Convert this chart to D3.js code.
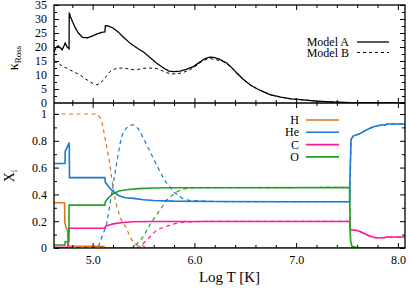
<!DOCTYPE html>
<html lang='en'>
	<head>
		<meta charset='utf-8'>
		<title>Opacity and composition</title>
		<script type='text/javascript' src='https://cdn.jsdelivr.net/npm/d3@7'></script>
		<style>
			body { margin: 0; background: #fff; }
		</style>
	</head>
	<body>
		<svg id='svg' width='409' height='288'></svg>
		<script type='text/javascript'>
		{
			// top panel: Rosseland opacity
			var tA = [4.62, 4.64, 4.66, 4.68, 4.70, 4.72, 4.73, 4.75, 4.768, 4.770, 4.78, 4.80, 4.83, 4.86, 4.90, 4.95, 5.00, 5.05, 5.10, 5.12, 5.125, 5.15, 5.20, 5.25, 5.30, 5.37, 5.45, 5.50, 5.56, 5.63, 5.70, 5.75, 5.80, 5.86, 5.92, 5.99, 6.05, 6.10, 6.15, 6.19, 6.25, 6.32, 6.38, 6.42, 6.48, 6.55, 6.62, 6.68, 6.75, 6.85, 6.95, 7.07, 7.20, 7.35, 7.53, 7.70, 8.07];
			var kA = [18.2, 19.8, 20.4, 19.8, 19.0, 20.5, 21.4, 20.0, 19.4, 32.3, 31.0, 29.2, 26.8, 25.0, 23.4, 23.3, 24.0, 24.8, 25.3, 25.4, 27.6, 27.5, 26.8, 25.4, 23.6, 21.3, 19.3, 18.2, 16.3, 14.2, 12.4, 11.4, 11.2, 11.4, 12.0, 13.0, 14.5, 15.8, 16.4, 16.3, 15.6, 14.2, 12.2, 10.6, 8.5, 6.4, 5.0, 4.0, 2.9, 2.1, 1.5, 1.1, 0.7, 0.4, 0.12, 0.05, 0.02];
			var tB = [4.62, 4.66, 4.70, 4.745, 4.80, 4.876, 4.93, 4.974, 5.01, 5.04, 5.07, 5.105, 5.14, 5.17, 5.22, 5.27, 5.33, 5.40, 5.45, 5.50, 5.56, 5.63, 5.69, 5.73, 5.78, 5.83, 5.89, 5.96, 6.03, 6.08, 6.12, 6.16, 6.22, 6.28, 6.32, 6.38, 6.42, 6.48, 6.55, 6.62, 6.68, 6.75, 6.85, 6.95, 7.07, 7.20, 7.35, 7.53, 7.70, 8.07];
			var kB = [14.8, 14.2, 13.2, 12.4, 11.4, 10.0, 8.6, 7.6, 6.8, 6.5, 7.0, 8.2, 9.8, 11.2, 12.2, 12.5, 12.3, 11.9, 12.0, 12.4, 12.5, 12.3, 11.4, 10.8, 10.4, 10.4, 10.9, 11.9, 13.6, 15.0, 15.6, 15.8, 15.4, 14.8, 14.0, 12.1, 10.5, 8.4, 6.4, 5.0, 4.0, 2.9, 2.1, 1.5, 1.1, 0.7, 0.4, 0.12, 0.05, 0.02];

			// bottom panel: mass fractions, model A (solid)
			var tHeA = [4.62, 4.728, 4.730, 4.770, 4.772, 5.12, 5.125, 5.15, 5.20, 5.26, 5.32, 5.40, 5.50, 5.60, 5.80, 6.20, 7.00, 7.525, 7.532, 7.54, 7.56, 7.63, 7.70, 7.76, 7.85, 7.88, 7.89, 8.07];
			var heA = [0.63, 0.63, 0.72, 0.786, 0.525, 0.525, 0.49, 0.465, 0.42, 0.39, 0.375, 0.37, 0.36, 0.355, 0.35, 0.347, 0.345, 0.345, 0.60, 0.81, 0.835, 0.855, 0.885, 0.905, 0.92, 0.918, 0.925, 0.925];
			var tHA = [4.62, 4.724, 4.726, 4.735, 4.754, 4.760, 4.770, 5.10, 5.13, 8.07];
			var hA = [0.338, 0.338, 0.20, 0.16, 0.13, 0.03, 0.015, 0.012, 0.002, 0.0];
			var tCA = [4.62, 4.755, 4.768, 5.12, 5.125, 5.20, 5.30, 5.40, 5.60, 7.525, 7.535, 7.56, 7.60, 7.65, 7.72, 7.78, 7.87, 7.88, 8.07];
			var cA = [0.005, 0.005, 0.147, 0.147, 0.162, 0.18, 0.19, 0.196, 0.198, 0.198, 0.134, 0.134, 0.13, 0.115, 0.09, 0.077, 0.077, 0.082, 0.082];
			var tOA = [4.62, 4.728, 4.730, 4.766, 4.768, 5.12, 5.125, 5.15, 5.20, 5.26, 5.33, 5.45, 5.60, 5.80, 7.525, 7.530, 7.535, 7.55, 7.60, 8.07];
			var oA = [0.022, 0.022, 0.047, 0.047, 0.32, 0.32, 0.346, 0.37, 0.405, 0.425, 0.435, 0.443, 0.448, 0.45, 0.452, 0.20, 0.05, 0.01, 0.003, 0.002];

			// model B (dashed)
			var tHB = [4.62, 5.04, 5.07, 5.09, 5.11, 5.14, 5.17, 5.20, 5.23, 5.28, 5.33, 5.37, 5.40, 5.44, 5.48, 5.53, 8.07];
			var hB = [1.0, 1.0, 0.975, 0.94, 0.868, 0.75, 0.62, 0.45, 0.33, 0.21, 0.15, 0.08, 0.045, 0.02, 0.025, 0.0, 0.0];
			var tHeB = [4.62, 5.04, 5.055, 5.10, 5.138, 5.19, 5.237, 5.27, 5.301, 5.35, 5.40, 5.45, 5.498, 5.55, 5.596, 5.695, 5.793, 5.891, 5.95, 6.10, 6.20, 7.00, 7.525, 7.532, 7.54, 7.56, 7.63, 7.70, 7.76, 7.85, 7.88, 7.89, 8.07];
			var heB = [0.0, 0.0, 0.01, 0.10, 0.18, 0.42, 0.64, 0.78, 0.868, 0.91, 0.92, 0.89, 0.82, 0.74, 0.67, 0.52, 0.42, 0.366, 0.355, 0.35, 0.347, 0.345, 0.345, 0.60, 0.81, 0.835, 0.855, 0.885, 0.905, 0.92, 0.918, 0.925, 0.925];
			var tCB = [4.62, 5.42, 5.466, 5.564, 5.63, 5.695, 5.80, 5.859, 5.95, 6.10, 7.525, 7.535, 7.56, 7.60, 7.65, 7.72, 7.78, 7.87, 7.88, 8.07];
			var cB = [0.0, 0.0, 0.01, 0.084, 0.135, 0.154, 0.18, 0.19, 0.195, 0.198, 0.198, 0.134, 0.134, 0.13, 0.115, 0.09, 0.077, 0.077, 0.082, 0.082];
			var tOB = [4.62, 5.38, 5.42, 5.498, 5.58, 5.662, 5.728, 5.793, 5.859, 5.93, 6.00, 7.525, 7.530, 7.535, 7.55, 7.60, 8.07];
			var oB = [0.0, 0.0, 0.02, 0.084, 0.196, 0.284, 0.358, 0.40, 0.433, 0.445, 0.45, 0.452, 0.20, 0.05, 0.01, 0.003, 0.002];

			var xMajor = [5, 6, 7, 8];
			var xLabels = ['5.0', '6.0', '7.0', '8.0'];
			var kTicks = [0, 5, 10, 15, 20, 25, 30, 35];
			var kLabels = ['0', '5', '10', '15', '20', '25', '30', '35'];
			var xiTicks = [0, 0.2, 0.4, 0.6, 0.8, 1];
			var xiLabels = ['0', '0.2', '0.4', '0.6', '0.8', '1'];

			var species = ['H', 'He', 'C', 'O'];
			var speciesColors = ['#d9761c', '#1a78d6', '#ff1a8c', '#22a022'];

			var serif = 'Liberation Serif, DejaVu Serif, serif';
			var svg = d3.select('#svg').style('font-family', serif);
			var pLeft = 54, pRight = 405, pTop = 5, pMid = 103, pBottom = 248;

			var x = d3.scaleLinear().domain([4.62, 8.07]).range([pLeft, pRight]);
			var yK = d3.scaleLinear().domain([0, 35]).range([pMid, pTop]);
			var yX = d3.scaleLinear().domain([0, 1.082]).range([pBottom, pMid]);

			var xMinor = d3.range(4.8, 8.07, 0.2).filter(v => Math.abs(v - Math.round(v)) > 0.01);
			var kMinor = d3.range(2.5, 35, 5);
			var xiMinor = d3.range(0.1, 1.05, 0.2);

			function pts(t, v) { return t.map((d, i) => [d, v[i]]); }

			function ticks(gen, pos, vals, size, fmt) {
				var g = svg.append('g').attr('transform', pos)
					.call(gen.tickValues(vals).tickSize(size).tickPadding(size < 0 ? 7 : 3).tickFormat(fmt));
				g.attr('font-family', null).attr('font-size', 12);
				g.select('.domain').remove();
				g.selectAll('line').attr('stroke', '#000').attr('stroke-width', 1);
				g.selectAll('text').attr('fill', '#000').style('font-family', serif);
				return g;
			}

			// clip for curves
			svg.append('clipPath').attr('id', 'clipTop').append('rect')
				.attr('x', pLeft).attr('y', pTop).attr('width', pRight - pLeft).attr('height', pMid - pTop);
			svg.append('clipPath').attr('id', 'clipBot').append('rect')
				.attr('x', pLeft).attr('y', pMid).attr('width', pRight - pLeft).attr('height', pBottom - pMid);

			var lineK = d3.line().x(d => x(d[0])).y(d => yK(d[1]));
			var lineX = d3.line().x(d => x(d[0])).y(d => yX(d[1]));

			// top curves
			var gt = svg.append('g').attr('clip-path', 'url(#clipTop)');
			gt.append('path').attr('d', lineK(pts(tB, kB))).attr('fill', 'none')
				.attr('stroke', '#000').attr('stroke-width', 1).attr('stroke-dasharray', '3,3');
			gt.append('path').attr('d', lineK(pts(tA, kA))).attr('fill', 'none')
				.attr('stroke', '#000').attr('stroke-width', 1.3);

			// bottom curves
			var gb = svg.append('g').attr('clip-path', 'url(#clipBot)');
			var seriesA = [pts(tHA, hA), pts(tHeA, heA), pts(tCA, cA), pts(tOA, oA)];
			var seriesB = [pts(tHB, hB), pts(tHeB, heB), pts(tCB, cB), pts(tOB, oB)];
			gb.selectAll('.dashB').data(seriesB).enter().append('path')
				.attr('class', 'dashB').attr('d', lineX).attr('fill', 'none')
				.attr('stroke', (d, i) => speciesColors[i]).attr('stroke-width', 1.2).attr('stroke-dasharray', '4,3.5');
			gb.selectAll('.solidA').data(seriesA).enter().append('path')
				.attr('class', 'solidA').attr('d', lineX).attr('fill', 'none')
				.attr('stroke', (d, i) => speciesColors[i]).attr('stroke-width', 1.6);

			// ticks: x axes
			ticks(d3.axisBottom(x), 'translate(0,' + pBottom + ')', xMajor, -5, (d, i) => xLabels[i]);
			ticks(d3.axisBottom(x), 'translate(0,' + pBottom + ')', xMinor, -3, '');
			ticks(d3.axisTop(x), 'translate(0,' + pTop + ')', xMajor, -5, '');
			ticks(d3.axisTop(x), 'translate(0,' + pTop + ')', xMinor, -3, '');
			ticks(d3.axisTop(x), 'translate(0,' + pMid + ')', xMajor, 5, '');
			ticks(d3.axisTop(x), 'translate(0,' + pMid + ')', xMinor, 3, '');
			ticks(d3.axisBottom(x), 'translate(0,' + pMid + ')', xMajor, 5, '');
			ticks(d3.axisBottom(x), 'translate(0,' + pMid + ')', xMinor, 3, '');

			// y axes top
			ticks(d3.axisLeft(yK), 'translate(' + pLeft + ',0)', kTicks.slice(1), -5, (d, i) => kLabels[i + 1]);
			ticks(d3.axisLeft(yK), 'translate(' + pLeft + ',0)', kMinor, -3, '');
			ticks(d3.axisRight(yK), 'translate(' + pRight + ',0)', kTicks, -5, '');
			ticks(d3.axisRight(yK), 'translate(' + pRight + ',0)', kMinor, -3, '');
			// the 0 label of the top panel sits on the shared border
			svg.append('text').attr('x', pLeft - 7).attr('y', pMid + 4).attr('text-anchor', 'end')
				.attr('font-size', 12).text(kLabels[0]);

			// y axes bottom (the 0 at the shared border belongs to the top panel)
			ticks(d3.axisLeft(yX), 'translate(' + pLeft + ',0)', xiTicks, -5, (d, i) => xiLabels[i]);
			ticks(d3.axisLeft(yX), 'translate(' + pLeft + ',0)', xiMinor, -3, '');
			ticks(d3.axisRight(yX), 'translate(' + pRight + ',0)', xiTicks, -5, '');
			ticks(d3.axisRight(yX), 'translate(' + pRight + ',0)', xiMinor, -3, '');

			// frames
			svg.append('rect').attr('x', pLeft).attr('y', pTop).attr('width', pRight - pLeft).attr('height', pBottom - pTop)
				.attr('fill', 'none').attr('stroke', '#000').attr('stroke-width', 1.3);
			svg.append('line').attr('x1', pLeft).attr('x2', pRight).attr('y1', pMid).attr('y2', pMid)
				.attr('stroke', '#000').attr('stroke-width', 1.6);

			// axis titles
			svg.append('text').attr('x', (pLeft + pRight) / 2).attr('y', 282).attr('text-anchor', 'middle')
				.attr('font-size', 15).text('Log T [K]');
			var kl = svg.append('text').attr('transform', 'translate(18,58) rotate(-90)')
				.attr('text-anchor', 'middle').attr('font-size', 14);
			kl.append('tspan').text('κ');
			kl.append('tspan').attr('font-size', 9).attr('dy', 3).text('Ross');
			var xl = svg.append('text').attr('transform', 'translate(14,176) rotate(-90)')
				.attr('text-anchor', 'middle').attr('font-size', 14);
			xl.append('tspan').text('X');
			xl.append('tspan').attr('font-size', 9).attr('dy', 3).text('i');

			// legends
			var models = ['Model A', 'Model B'];
			var lg = svg.selectAll('.lgM').data(models).enter().append('g').attr('class', 'lgM')
				.attr('transform', (d, i) => 'translate(0,' + (42 + i * 10.5) + ')');
			lg.append('text').attr('x', 349).attr('y', 4).attr('text-anchor', 'end').attr('font-size', 12).text(d => d);
			lg.append('line').attr('x1', 357).attr('x2', 389).attr('y1', 0).attr('y2', 0)
				.attr('stroke', '#000').attr('stroke-width', (d, i) => i ? 1 : 1.3)
				.attr('stroke-dasharray', (d, i) => i ? '3,3' : null);

			var ls = svg.selectAll('.lgS').data(species).enter().append('g').attr('class', 'lgS')
				.attr('transform', (d, i) => 'translate(0,' + (120 + i * 12.3) + ')');
			ls.append('text').attr('x', 299).attr('y', 4).attr('text-anchor', 'end').attr('font-size', 12).text(d => d);
			ls.append('line').attr('x1', 306).attr('x2', 339).attr('y1', 0).attr('y2', 0)
				.attr('stroke', (d, i) => speciesColors[i]).attr('stroke-width', 1.6);
		}
		</script>
	</body>
</html>
